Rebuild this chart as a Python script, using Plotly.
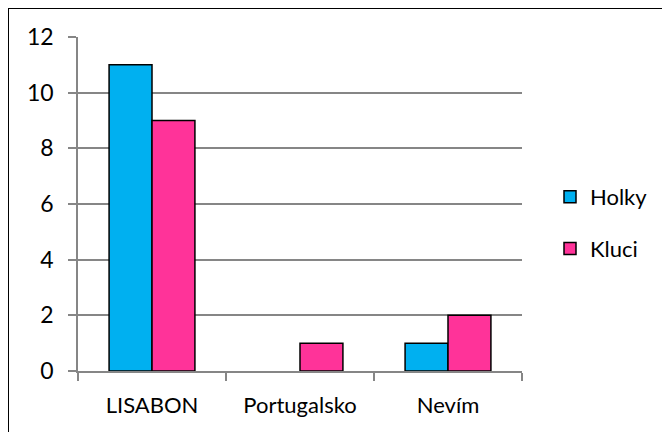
import plotly.graph_objects as go

categories = ["LISABON", "Portugalsko", "Nevím"]
holky = [11, 0, 1]
kluci = [9, 1, 2]
series_names = ["Holky", "Kluci"]
y_ticks = [0, 2, 4, 6, 8, 10, 12]

FONT = "Lato, Carlito, Calibri, sans-serif"
OFF = 8  # page offset of the figure inside the window

def lw(vals):
    return [1.5 if v > 0 else 0 for v in vals]

fig = go.Figure()
fig.add_trace(go.Bar(x=categories, y=holky, name=series_names[0], legendgroup="a",
                     marker=dict(color="#00B0F0", line=dict(color="#000000", width=lw(holky)))))
fig.add_trace(go.Bar(x=categories, y=kluci, name=series_names[1], legendgroup="b",
                     marker=dict(color="#FF3399", line=dict(color="#000000", width=lw(kluci)))))

L, R, T, B = 78 - OFF, 522 - OFF, 37 - OFF, 371 - OFF
W, H = 670, 432
pw, ph = R - L, B - T

def px2x(p):
    return (p - OFF - L) / pw

def px2y(p):
    return (B - (p - OFF)) / ph

fig.update_layout(
    width=W, height=H,
    margin=dict(l=L, r=W - R, t=T, b=H - B, pad=0),
    paper_bgcolor="white", plot_bgcolor="white",
    barmode="group", bargap=0.42, bargroupgap=0,
    font=dict(family=FONT, size=22, color="#000000"),
    showlegend=True,
    legend=dict(x=px2x(550), y=px2y(223), xanchor="left", yanchor="middle",
                tracegroupgap=20, font=dict(size=22), bgcolor="rgba(0,0,0,0)",
                itemwidth=30),
    xaxis=dict(range=[-0.5, 2.5], showline=True, linecolor="#868686", linewidth=1.5,
               ticks="outside", ticklen=8, tickcolor="#868686", tickwidth=1.5,
               tickson="boundaries", showgrid=False, ticklabelstandoff=14,
               tickfont=dict(size=22)),
    yaxis=dict(range=[0, 12], tickvals=y_ticks, showline=True, linecolor="#868686",
               linewidth=1.5, ticks="outside", ticklen=8, tickcolor="#868686",
               tickwidth=1.5, showgrid=True, gridcolor="#868686", gridwidth=1.5,
               zeroline=False, ticklabelstandoff=10, tickfont=dict(size=23)),
    shapes=[dict(type="rect", xref="paper", yref="paper",
                 x0=px2x(8), x1=px2x(700), y0=px2y(8), y1=px2y(460),
                 line=dict(color="#000000", width=2), fillcolor="rgba(0,0,0,0)",
                 layer="above")],
)

fig.write_html("out.html")
